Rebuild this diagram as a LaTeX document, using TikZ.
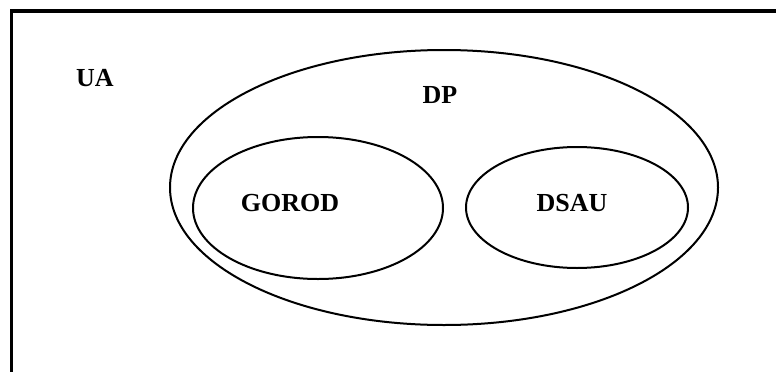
\documentclass[tikz,border=0pt]{standalone}
\usepackage{fontspec}
\setmainfont{Liberation Serif}
\usetikzlibrary{shapes.geometric}
\begin{document}
\begin{tikzpicture}[x=1pt,y=-1pt,
  setbox/.style={draw=black,line width=2pt,ellipse,inner sep=0pt},
  lbl/.style={font=\fontsize{26}{30}\selectfont\bfseries,inner sep=0pt,anchor=center}]
\useasboundingbox[fill=white] (0,0) rectangle (776,372);
\coordinate (tl) at (11.5,11);
\coordinate (tr) at (776,11);
\coordinate (bl) at (11.5,372);
\draw[line width=3.2pt] (tr) -- (tl) -- (bl);
\node[setbox,minimum width=548pt,minimum height=275pt] (dp) at (444,187.5) {};
\node[setbox,minimum width=250pt,minimum height=142pt] (gorod) at (318,208) {};
\node[setbox,minimum width=222pt,minimum height=121pt] (dsau) at (577,207.5) {};
\node[lbl] (ua) at (95,78) {UA};
\node[lbl] (dpl) at (440,95) {DP};
\node[lbl] (gorodl) at (290,203) {GOROD};
\node[lbl] (dsaul) at (572,203) {DSAU};
\end{tikzpicture}
\end{document}
